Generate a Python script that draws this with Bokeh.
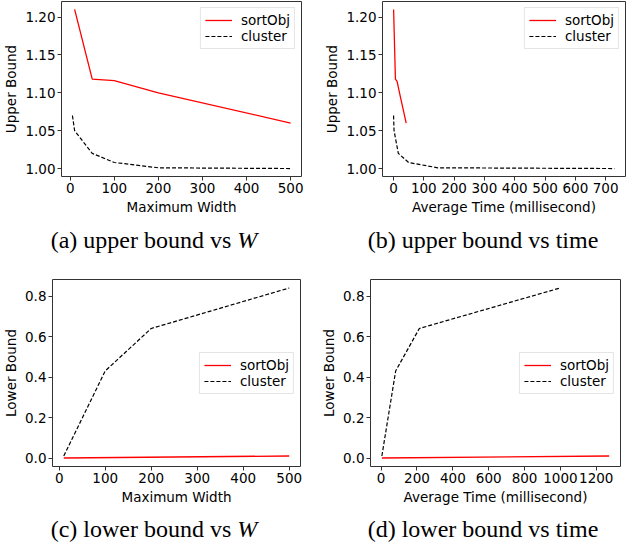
from bokeh.plotting import figure
from bokeh.models import Range1d, FixedTicker, Div, PrintfTickFormatter
from bokeh.layouts import column, row
from bokeh.embed import file_html
from bokeh.resources import INLINE

# ---- data ----
# (a) upper bound vs maximum width
a_sort_w = [10, 50, 100, 200, 500]
a_sort_ub = [1.21, 1.118, 1.116, 1.10, 1.06]
a_clus_w = [5, 10, 50, 100, 200, 500]
a_clus_ub = [1.07, 1.05, 1.02, 1.008, 1.001, 1.0]
# (b) upper bound vs average time
b_sort_t = [0.5, 6.5, 12, 20, 42]
b_sort_ub = [1.21, 1.118, 1.115, 1.10, 1.06]
b_clus_t = [0.3, 2, 16, 50, 146, 729]
b_clus_ub = [1.07, 1.05, 1.02, 1.008, 1.001, 1.0]
# (c) lower bound vs maximum width
c_sort_w = [10, 500]
c_sort_lb = [0.0, 0.01]
c_clus_w = [10, 100, 200, 500]
c_clus_lb = [0.01, 0.43, 0.64, 0.84]
# (d) lower bound vs average time
d_sort_t = [4, 1272]
d_sort_lb = [0.0, 0.01]
d_clus_t = [4, 81, 213, 998]
d_clus_lb = [0.01, 0.43, 0.64, 0.84]

width_ticks = [0, 100, 200, 300, 400, 500]
time_ticks_b = [0, 100, 200, 300, 400, 500, 600, 700]
time_ticks_d = [0, 200, 400, 600, 800, 1000, 1200]
ub_ticks = [1.00, 1.05, 1.10, 1.15, 1.20]
lb_ticks = [0.0, 0.2, 0.4, 0.6, 0.8]

captions = [
    "(a) upper bound vs <i>W</i>",
    "(b) upper bound vs time",
    "(c) lower bound vs <i>W</i>",
    "(d) lower bound vs time",
]

FONT = "DejaVu Sans"
FS = "13.5px"


def pad_range(vals):
    lo, hi = min(vals), max(vals)
    s = (hi - lo) * 0.05
    return Range1d(lo - s, hi + s)


def make(xs, ys, xc, yc, xticks, yticks, yfmt, xlabel, ylabel,
         w, h, bl, br, bt, bb, loc):
    p = figure(width=w, height=h, output_backend="svg", toolbar_location=None,
               x_range=pad_range(xs + xc), y_range=pad_range(ys + yc),
               min_border_left=bl, min_border_right=br,
               min_border_top=bt, min_border_bottom=bb)
    p.line(xs, ys, color="#ff0000", line_width=1.3, legend_label="sortObj")
    p.line(xc, yc, color="black", line_width=1.2, line_dash="4 2",
           legend_label="cluster")
    p.grid.visible = False
    p.outline_line_color = "#333333"
    p.outline_line_width = 1
    p.background_fill_color = "white"
    p.border_fill_color = "white"
    p.xaxis.ticker = FixedTicker(ticks=xticks)
    p.yaxis.ticker = FixedTicker(ticks=yticks)
    p.xaxis.formatter = PrintfTickFormatter(format="%d")
    p.yaxis.formatter = PrintfTickFormatter(format=yfmt)
    p.xaxis.axis_label = xlabel
    p.yaxis.axis_label = ylabel
    for ax in (p.xaxis, p.yaxis):
        ax.axis_line_color = None
        ax.major_tick_line_color = "#333333"
        ax.major_tick_in = 0
        ax.major_tick_out = 4
        ax.minor_tick_line_color = None
        ax.major_label_text_font = FONT
        ax.major_label_text_font_size = FS
        ax.major_label_text_color = "black"
        ax.major_label_standoff = 2
        ax.axis_label_text_font = FONT
        ax.axis_label_text_font_size = FS
        ax.axis_label_text_font_style = "normal"
        ax.axis_label_text_color = "black"
        ax.axis_label_standoff = 3
    lg = p.legend[0]
    lg.location = loc
    lg.margin = 6
    lg.padding = 4
    lg.spacing = 0
    lg.label_text_font = FONT
    lg.label_text_font_size = FS
    lg.label_text_color = "black"
    lg.label_height = 14
    lg.glyph_height = 14
    lg.glyph_width = 27
    lg.label_standoff = 9
    lg.border_line_color = "#cccccc"
    lg.border_line_width = 1
    lg.background_fill_alpha = 0.8
    return p


pa = make(a_sort_w, a_sort_ub, a_clus_w, a_clus_ub, width_ticks, ub_ticks,
          "%.2f", "Maximum Width", "Upper Bound",
          313, 220, 58, 12, 1, 44, "top_right")
pb = make(b_sort_t, b_sort_ub, b_clus_t, b_clus_ub, time_ticks_b, ub_ticks,
          "%.2f", "Average Time (millisecond)", "Upper Bound",
          313, 220, 69, 1, 1, 44, "top_right")
pc = make(c_sort_w, c_sort_lb, c_clus_w, c_clus_lb, width_ticks, lb_ticks,
          "%.1f", "Maximum Width", "Lower Bound",
          313, 252, 51, 13, 19, 46, "right")
pd = make(d_sort_t, d_sort_lb, d_clus_t, d_clus_lb, time_ticks_d, lb_ticks,
          "%.1f", "Average Time (millisecond)", "Lower Bound",
          313, 252, 57, 6, 19, 46, "right")


def cap(text, w, h, ml):
    html = ('<div style="width:%dpx;margin-left:%dpx;text-align:center;'
            "font-family:'Liberation Serif';font-size:24px;line-height:%dpx;"
            'color:black;white-space:nowrap;">%s</div>' % (w - ml, ml, h, text))
    return Div(text=html, width=w, height=h)


layout = column(
    row(pa, pb),
    row(cap(captions[0], 298, 30, 0), cap(captions[1], 328, 30, 12)),
    row(pc, pd),
    row(cap(captions[2], 298, 24, 0), cap(captions[3], 328, 24, 12)),
)

open("out.html", "w").write(file_html(layout, INLINE))
